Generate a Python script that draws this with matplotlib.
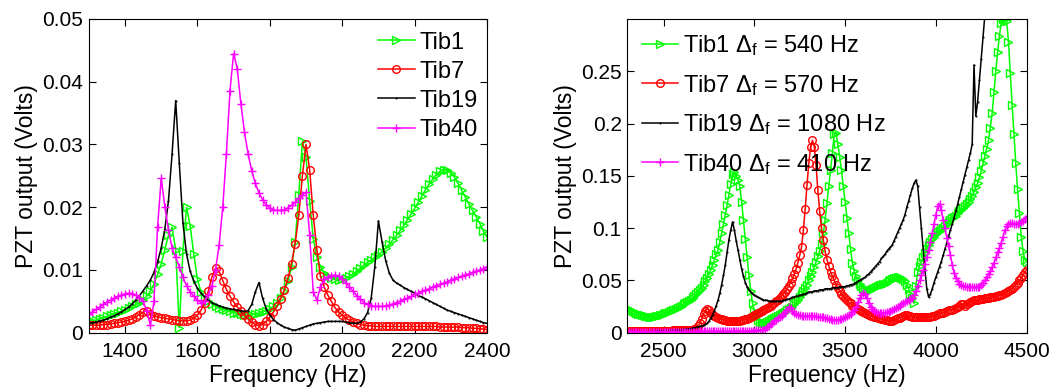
import numpy as np
import matplotlib
matplotlib.use("Agg")
import matplotlib.pyplot as plt
from matplotlib.ticker import FormatStrFormatter

plt.rcParams['font.family'] = ['Liberation Sans', 'DejaVu Sans']
plt.rcParams['mathtext.fontset'] = 'custom'
plt.rcParams['mathtext.rm'] = 'Liberation Sans'
plt.rcParams['mathtext.it'] = 'Liberation Sans:italic'

# ---- left panel: 1300-2400 Hz, 10 Hz step, values in mV ----
freq_left = list(range(1300, 2410, 10))

tib1_left = [
    1.8, 1.9, 2.0, 2.2, 2.4, 2.6, 2.8, 3.0, 3.2, 3.4,
    3.6, 3.9, 4.2, 4.5, 4.8, 5.2, 5.8, 6.6, 7.8, 9.3,
    11.0, 13.2, 15.5, 16.8, 13.2, 0.8, 13.0, 20.0, 17.0, 12.5,
    8.5, 6.5, 5.5, 5.0, 4.6, 4.3, 4.0, 3.8, 3.6, 3.4,
    3.2, 3.1, 3.0, 2.9, 2.9, 2.9, 3.0, 3.1, 3.3, 3.5,
    3.8, 4.2, 4.8, 5.6, 6.7, 8.2, 10.5, 14.5, 22.0, 30.5,
    28.0, 21.0, 15.0, 12.0, 10.5, 9.5, 9.0, 8.7, 8.5, 8.4,
    8.5, 8.7, 9.0, 9.4, 9.8, 10.3, 10.8, 11.2, 11.6, 12.0,
    12.4, 12.9, 13.5, 14.1, 14.8, 15.5, 16.3, 17.1, 18.0, 18.9,
    19.8, 20.8, 21.8, 22.8, 23.7, 24.5, 25.2, 25.7, 26.0, 25.9,
    25.5, 24.8, 23.8, 22.7, 21.6, 20.5, 19.5, 18.5, 17.4, 16.2, 15.2]

tib7_left = [
    1.2, 1.2, 1.2, 1.2, 1.3, 1.3, 1.4, 1.5, 1.6, 1.7,
    1.8, 2.0, 2.2, 2.5, 2.9, 3.3, 3.5, 3.0, 2.7, 2.5,
    2.4, 2.3, 2.2, 2.1, 2.0, 1.9, 1.9, 1.9, 2.0, 2.3,
    2.8, 3.6, 4.8, 6.6, 8.9, 10.3, 9.8, 8.3, 6.9, 5.8,
    4.9, 4.1, 3.4, 2.8, 2.2, 1.7, 1.3, 1.1, 1.3, 1.8,
    2.5, 3.3, 4.2, 5.4, 6.8, 8.7, 11.0, 14.2, 18.7, 25.0,
    30.0, 26.0, 18.7, 13.2, 9.0, 7.3, 6.0, 5.0, 4.0, 3.3,
    2.8, 2.3, 2.0, 1.7, 1.5, 1.3, 1.2, 1.1, 1.1, 1.0,
    1.0, 1.0, 1.0, 1.0, 1.0, 1.0, 1.0, 1.0, 1.0, 1.0,
    1.0, 1.0, 1.0, 1.0, 1.0, 1.0, 1.0, 0.9, 0.9, 0.9,
    0.9, 0.9, 0.9, 0.8, 0.8, 0.8, 0.7, 0.7, 0.6, 0.6, 0.5]

tib19_left = [
    1.5, 1.6, 1.7, 1.9, 2.0, 2.2, 2.5, 2.7, 3.0, 3.3,
    3.7, 4.1, 4.6, 5.2, 5.9, 6.7, 7.5, 8.4, 9.6, 11.3,
    13.5, 16.5, 21.0, 28.5, 37.0, 27.0, 17.5, 12.5, 9.8, 8.2,
    7.1, 6.3, 5.7, 5.2, 4.8, 4.5, 4.3, 4.1, 3.9, 3.8,
    3.7, 3.6, 3.5, 3.4, 3.5, 4.5, 6.5, 8.0, 5.5, 3.8,
    2.8, 2.1, 1.6, 1.2, 0.9, 0.7, 0.5, 0.4, 0.6, 0.8,
    1.0, 1.2, 1.4, 1.5, 1.6, 1.7, 1.8, 1.8, 1.8, 1.8,
    1.8, 1.7, 1.6, 1.5, 1.5, 1.7, 2.2, 3.2, 5.5, 10.5,
    17.8, 14.5, 11.5, 9.5, 8.4, 7.9, 7.6, 7.2, 6.9, 6.6,
    6.3, 5.9, 5.7, 5.4, 5.1, 4.8, 4.5, 4.2, 3.9, 3.6,
    3.4, 3.2, 3.0, 2.8, 2.6, 2.4, 2.2, 2.0, 1.8, 1.6, 1.5]

tib40_left = [
    3.0, 3.3, 3.7, 4.1, 4.5, 4.9, 5.2, 5.5, 5.8, 6.0,
    6.2, 6.3, 6.2, 6.0, 5.6, 5.0, 3.5, 1.2, 5.0, 16.9,
    24.6, 20.1, 16.4, 13.5, 12.0, 10.5, 8.8, 7.5, 6.5, 5.8,
    5.2, 4.8, 5.0, 6.0, 7.5, 10.0, 14.0, 20.0, 28.5, 38.6,
    44.5, 42.1, 36.5, 32.0, 28.5, 25.8, 23.8, 22.3, 21.2, 20.4,
    19.9, 19.6, 19.5, 19.5, 19.6, 19.9, 20.3, 20.8, 21.4, 22.0,
    22.4, 15.6, 6.5, 5.2, 7.3, 8.5, 8.9, 9.1, 9.2, 9.0,
    8.6, 8.0, 7.3, 6.6, 5.9, 5.3, 4.8, 4.5, 4.3, 4.2,
    4.2, 4.2, 4.3, 4.4, 4.6, 4.8, 5.0, 5.3, 5.5, 5.8,
    6.1, 6.3, 6.6, 6.8, 7.0, 7.3, 7.5, 7.7, 7.9, 8.1,
    8.4, 8.6, 8.8, 9.0, 9.2, 9.4, 9.6, 9.8, 10.0, 10.2, 10.5]

# ---- right panel: 2300-4500 Hz, 10 Hz step, values in V ----
freq_right = list(range(2300, 4510, 10))

tib1_right = [
    0.024, 0.023, 0.022, 0.021, 0.020, 0.019, 0.018, 0.0175, 0.017, 0.0165,
    0.016, 0.016, 0.0155, 0.0155, 0.0155, 0.0155, 0.0158, 0.016, 0.0165, 0.017,
    0.018, 0.0185, 0.019, 0.020, 0.021, 0.0215, 0.022, 0.023, 0.024, 0.025,
    0.026, 0.027, 0.028, 0.029, 0.030, 0.031, 0.033, 0.035, 0.037, 0.039,
    0.041, 0.043, 0.046, 0.049, 0.052, 0.056, 0.060, 0.065, 0.070, 0.075,
    0.079, 0.087, 0.095, 0.104, 0.113, 0.122, 0.132, 0.142, 0.152, 0.154,
    0.150, 0.146, 0.140, 0.125, 0.108, 0.090, 0.072, 0.055, 0.040, 0.028,
    0.021, 0.016, 0.012, 0.010, 0.009, 0.009, 0.0095, 0.010, 0.011, 0.012,
    0.013, 0.014, 0.015, 0.016, 0.017, 0.018, 0.019, 0.020, 0.022, 0.023,
    0.024, 0.025, 0.027, 0.029, 0.031, 0.034, 0.037, 0.040, 0.043, 0.046,
    0.050, 0.054, 0.058, 0.063, 0.068, 0.073, 0.078, 0.085, 0.095, 0.108,
    0.124, 0.140, 0.156, 0.172, 0.190, 0.191, 0.180, 0.168, 0.156, 0.140,
    0.125, 0.110, 0.095, 0.080, 0.067, 0.059, 0.054, 0.050, 0.047, 0.045,
    0.043, 0.042, 0.041, 0.041, 0.041, 0.042, 0.043, 0.044, 0.045, 0.046,
    0.046, 0.047, 0.047, 0.048, 0.049, 0.050, 0.051, 0.052, 0.052, 0.053,
    0.053, 0.052, 0.051, 0.049, 0.046, 0.042, 0.037, 0.033, 0.028, 0.045,
    0.058, 0.064, 0.068, 0.072, 0.076, 0.080, 0.084, 0.087, 0.090, 0.092,
    0.094, 0.096, 0.097, 0.099, 0.100, 0.102, 0.104, 0.106, 0.108, 0.110,
    0.111, 0.112, 0.114, 0.116, 0.117, 0.119, 0.121, 0.123, 0.125, 0.128,
    0.131, 0.135, 0.139, 0.143, 0.149, 0.155, 0.162, 0.169, 0.176, 0.184,
    0.196, 0.210, 0.230, 0.250, 0.268, 0.284, 0.296, 0.300, 0.300, 0.298,
    0.278, 0.248, 0.218, 0.190, 0.162, 0.137, 0.114, 0.092, 0.078, 0.070,
    0.068]

tib7_right = [
    0.002, 0.002, 0.002, 0.002, 0.002, 0.002, 0.002, 0.002, 0.002, 0.002,
    0.002, 0.002, 0.002, 0.002, 0.002, 0.002, 0.002, 0.002, 0.002, 0.002,
    0.002, 0.002, 0.002, 0.002, 0.002, 0.0022, 0.0022, 0.0022, 0.0024, 0.0024,
    0.0025, 0.0025, 0.0026, 0.0027, 0.0028, 0.003, 0.003, 0.0032, 0.004, 0.006,
    0.009, 0.013, 0.018, 0.021, 0.023, 0.022, 0.019, 0.017, 0.016, 0.015,
    0.014, 0.0135, 0.013, 0.0125, 0.012, 0.0115, 0.011, 0.011, 0.011, 0.011,
    0.011, 0.011, 0.0115, 0.012, 0.0125, 0.013, 0.0135, 0.014, 0.015, 0.016,
    0.017, 0.018, 0.019, 0.020, 0.021, 0.022, 0.023, 0.024, 0.025, 0.026,
    0.027, 0.028, 0.030, 0.031, 0.033, 0.035, 0.037, 0.039, 0.042, 0.045,
    0.048, 0.052, 0.056, 0.061, 0.067, 0.074, 0.082, 0.098, 0.118, 0.141,
    0.162, 0.178, 0.184, 0.178, 0.160, 0.136, 0.116, 0.100, 0.089, 0.078,
    0.070, 0.064, 0.058, 0.054, 0.050, 0.046, 0.043, 0.040, 0.037, 0.035,
    0.033, 0.031, 0.029, 0.028, 0.026, 0.025, 0.024, 0.023, 0.022, 0.021,
    0.020, 0.019, 0.018, 0.017, 0.016, 0.016, 0.015, 0.015, 0.014, 0.014,
    0.013, 0.013, 0.012, 0.012, 0.011, 0.011, 0.011, 0.012, 0.013, 0.014,
    0.014, 0.015, 0.016, 0.017, 0.017, 0.016, 0.016, 0.015, 0.015, 0.015,
    0.015, 0.015, 0.015, 0.015, 0.015, 0.015, 0.015, 0.015, 0.016, 0.016,
    0.017, 0.018, 0.019, 0.019, 0.019, 0.020, 0.021, 0.022, 0.022, 0.022,
    0.023, 0.024, 0.025, 0.026, 0.027, 0.027, 0.026, 0.027, 0.028, 0.029,
    0.030, 0.031, 0.031, 0.031, 0.032, 0.032, 0.032, 0.033, 0.033, 0.033,
    0.034, 0.034, 0.034, 0.035, 0.035, 0.036, 0.036, 0.037, 0.038, 0.039,
    0.040, 0.041, 0.042, 0.044, 0.046, 0.048, 0.050, 0.052, 0.055, 0.058,
    0.060]

# Tib19 leaves the top of the axes near 4270 Hz
tib19_right = [
    0.001, 0.001, 0.001, 0.001, 0.001, 0.001, 0.001, 0.001, 0.001, 0.001,
    0.001, 0.001, 0.0012, 0.0012, 0.0013, 0.0014, 0.0015, 0.0016, 0.0017, 0.0018,
    0.002, 0.002, 0.002, 0.0021, 0.0022, 0.0023, 0.0024, 0.0025, 0.0026, 0.0027,
    0.003, 0.003, 0.0032, 0.0034, 0.0036, 0.004, 0.0042, 0.0045, 0.005, 0.0055,
    0.006, 0.0065, 0.007, 0.008, 0.009, 0.011, 0.014, 0.017, 0.021, 0.026,
    0.031, 0.038, 0.046, 0.055, 0.065, 0.077, 0.089, 0.098, 0.106, 0.098,
    0.088, 0.079, 0.070, 0.061, 0.054, 0.048, 0.044, 0.041, 0.039, 0.037,
    0.036, 0.035, 0.034, 0.033, 0.032, 0.031, 0.031, 0.031, 0.030, 0.030,
    0.030, 0.030, 0.030, 0.030, 0.030, 0.030, 0.031, 0.031, 0.032, 0.032,
    0.033, 0.034, 0.034, 0.035, 0.035, 0.036, 0.036, 0.037, 0.037, 0.038,
    0.039, 0.039, 0.039, 0.040, 0.040, 0.040, 0.041, 0.041, 0.041, 0.042,
    0.042, 0.042, 0.042, 0.043, 0.043, 0.043, 0.043, 0.044, 0.044, 0.044,
    0.044, 0.045, 0.045, 0.046, 0.046, 0.047, 0.048, 0.049, 0.050, 0.051,
    0.052, 0.053, 0.055, 0.056, 0.058, 0.060, 0.062, 0.064, 0.066, 0.068,
    0.071, 0.073, 0.075, 0.078, 0.080, 0.082, 0.084, 0.088, 0.092, 0.096,
    0.100, 0.104, 0.108, 0.113, 0.120, 0.126, 0.132, 0.138, 0.143, 0.146,
    0.140, 0.120, 0.100, 0.080, 0.060, 0.042, 0.034, 0.037, 0.042, 0.048,
    0.053, 0.058, 0.063, 0.068, 0.074, 0.080, 0.086, 0.092, 0.098, 0.104,
    0.110, 0.116, 0.123, 0.130, 0.137, 0.144, 0.151, 0.158, 0.165, 0.172,
    0.180, 0.256, 0.207, 0.221, 0.242, 0.262, 0.283, 0.304, 0.330]

tib40_right = [
    0.001, 0.001, 0.001, 0.001, 0.001, 0.001, 0.001, 0.001, 0.001, 0.001,
    0.001, 0.001, 0.001, 0.001, 0.001, 0.001, 0.001, 0.001, 0.001, 0.001,
    0.001, 0.001, 0.001, 0.001, 0.001, 0.001, 0.001, 0.001, 0.001, 0.001,
    0.001, 0.001, 0.001, 0.001, 0.001, 0.001, 0.001, 0.001, 0.001, 0.001,
    0.0012, 0.0012, 0.0012, 0.0012, 0.0012, 0.0012, 0.0012, 0.0012, 0.0012, 0.0012,
    0.0013, 0.0013, 0.0013, 0.0013, 0.0013, 0.0013, 0.0013, 0.0013, 0.0013, 0.0013,
    0.0015, 0.0015, 0.0015, 0.0015, 0.0015, 0.0016, 0.0017, 0.0018, 0.0019, 0.002,
    0.002, 0.0022, 0.0024, 0.0026, 0.0028, 0.003, 0.004, 0.005, 0.006, 0.008,
    0.009, 0.011, 0.012, 0.014, 0.015, 0.016, 0.018, 0.020, 0.022, 0.025,
    0.024, 0.021, 0.019, 0.018, 0.017, 0.017, 0.016, 0.016, 0.016, 0.016,
    0.016, 0.016, 0.016, 0.016, 0.016, 0.015, 0.015, 0.015, 0.015, 0.014,
    0.014, 0.013, 0.013, 0.012, 0.012, 0.012, 0.012, 0.013, 0.013, 0.014,
    0.015, 0.016, 0.017, 0.018, 0.020, 0.022, 0.025, 0.029, 0.033, 0.036,
    0.038, 0.037, 0.033, 0.028, 0.025, 0.023, 0.021, 0.020, 0.019, 0.019,
    0.019, 0.019, 0.019, 0.020, 0.020, 0.021, 0.022, 0.023, 0.024, 0.025,
    0.026, 0.027, 0.028, 0.029, 0.030, 0.031, 0.032, 0.033, 0.036, 0.040,
    0.045, 0.050, 0.055, 0.060, 0.066, 0.072, 0.079, 0.087, 0.095, 0.104,
    0.113, 0.121, 0.123, 0.117, 0.108, 0.100, 0.091, 0.083, 0.074, 0.065,
    0.057, 0.052, 0.049, 0.047, 0.046, 0.045, 0.045, 0.044, 0.044, 0.044,
    0.044, 0.044, 0.044, 0.044, 0.044, 0.046, 0.048, 0.050, 0.053, 0.056,
    0.059, 0.063, 0.067, 0.072, 0.077, 0.081, 0.086, 0.092, 0.098, 0.102,
    0.104, 0.105, 0.105, 0.104, 0.104, 0.104, 0.105, 0.106, 0.107, 0.109,
    0.111]

labels_left = ['Tib1', 'Tib7', 'Tib19', 'Tib40']
labels_right = [r'Tib1 $\Delta_\mathrm{f}$ = 540 Hz', r'Tib7 $\Delta_\mathrm{f}$ = 570 Hz',
                r'Tib19 $\Delta_\mathrm{f}$ = 1080 Hz', r'Tib40 $\Delta_\mathrm{f}$ = 410 Hz']

styles = [dict(color='#00ff00', marker='>', ms=6, mfc='none'),
          dict(color='#ff0000', marker='o', ms=5.5, mfc='none'),
          dict(color='black', marker='.', ms=1),
          dict(color='#ff00ff', marker='+', ms=6)]

fig = plt.figure(figsize=(10.56, 3.9), dpi=100)
ax1 = fig.add_axes([0.0841, 0.1469, 0.3771, 0.8044])
ax2 = fig.add_axes([0.594, 0.1469, 0.3782, 0.8044])

fl = np.array(freq_left)
for vals, lab, st in zip([tib1_left, tib7_left, tib19_left, tib40_left], labels_left, styles):
    ax1.plot(fl, np.array(vals) / 1000, label=lab, lw=1.1, mew=1.0, **st)

fr = np.array(freq_right)
for vals, lab, st in zip([tib1_right, tib7_right, tib19_right, tib40_right], labels_right, styles):
    ax2.plot(fr[:len(vals)], vals, label=lab, lw=1.1, mew=1.0, **st)

ax1.set_xlim(1300, 2400)
ax1.set_ylim(0, 0.05)
ax1.set_xticks([1400, 1600, 1800, 2000, 2200, 2400])
ax1.set_yticks([0, 0.01, 0.02, 0.03, 0.04, 0.05])

ax2.set_xlim(2300, 4500)
ax2.set_ylim(0, 0.3)
ax2.set_xticks([2500, 3000, 3500, 4000, 4500])
ax2.set_yticks([0, 0.05, 0.1, 0.15, 0.2, 0.25])

for ax in (ax1, ax2):
    ax.yaxis.set_major_formatter(FormatStrFormatter('%g'))
    ax.tick_params(direction='in', top=True, right=True, length=5, width=0.8,
                   labelsize=15)
    ax.tick_params(axis='x', pad=7)
    ax.tick_params(axis='y', pad=4)
    ax.set_xlabel('Frequency (Hz)', fontsize=16.5, labelpad=2)
    ax.set_ylabel('PZT output (Volts)', fontsize=16.5, labelpad=3)
    for sp in ax.spines.values():
        sp.set_linewidth(0.8)

ax1.legend(loc='upper left', bbox_to_anchor=(0.726, 0.96), frameon=False, fontsize=17,
           handlelength=1.55, handletextpad=0.2, labelspacing=0.3, borderpad=0, borderaxespad=0)
ax2.legend(loc='upper left', bbox_to_anchor=(0.038, 0.955), frameon=False, fontsize=17,
           handlelength=1.5, handletextpad=0.2, labelspacing=0.62, borderpad=0, borderaxespad=0)

fig.savefig('out.png', dpi=100)
